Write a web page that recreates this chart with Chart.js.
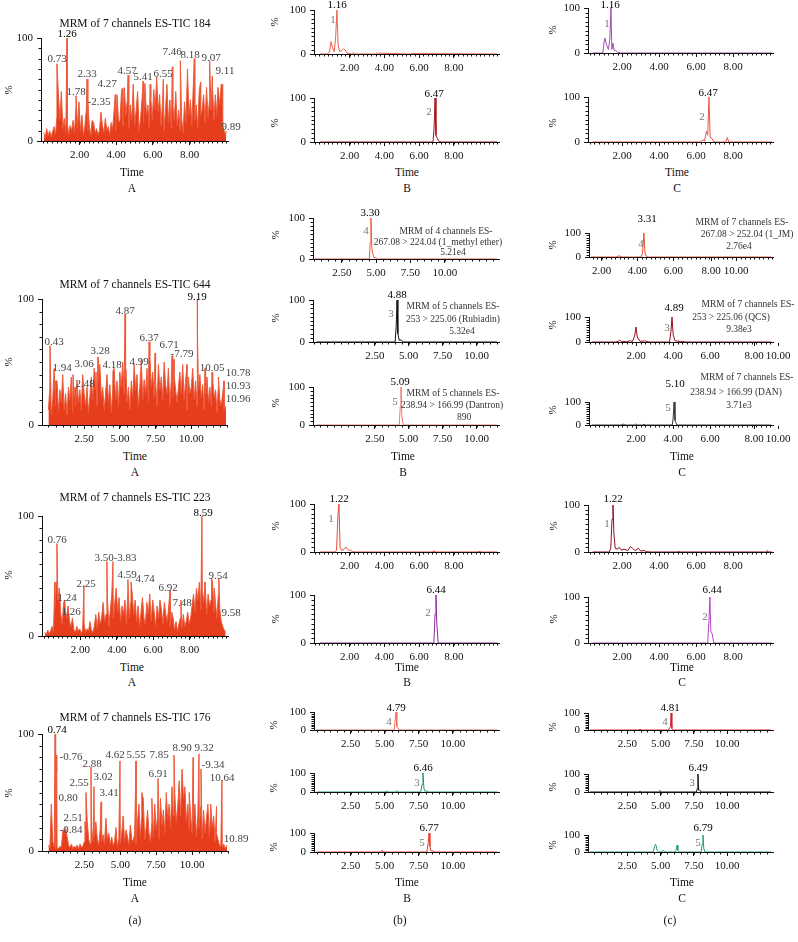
<!DOCTYPE html>
<html>
<head>
<meta charset="utf-8">
<script src="https://cdn.jsdelivr.net/npm/chart.js@4.4.1/dist/chart.umd.min.js"></script>
<style>
  body { margin: 0; background: #fff; }
  #fig { position: relative; width: 798px; height: 942px; overflow: hidden;
         font-family: "Liberation Serif", "DejaVu Serif", serif; color: #111; }
  #fig canvas { position: absolute; }
  .t { position: absolute; transform: translate(-50%, -50%); white-space: nowrap; line-height: 1; }
  .title { font-size: 11.5px; color: #111; }
  .pk { font-size: 11px; color: #444; }
  .pkb { font-size: 11px; color: #000; }
  .num { font-size: 11px; color: #777; }
  .ann { font-size: 9.5px; color: #333; }
  .ax { font-size: 11.5px; color: #111; }
  .pct { font-size: 11px; color: #111; transform: translate(-50%, -50%) rotate(-90deg); }
</style>
</head>
<body>
<div id="fig"></div>
<script>
// --- tick labels ---
const ticks2 = [2, 4, 6, 8];
const ticks2Text = ["2.00", "4.00", "6.00", "8.00"];
const ticks25 = [2.5, 5, 7.5, 10];
const ticks25Text = ["2.50", "5.00", "7.50", "10.00"];
const ticksC2a = [2, 4, 6, 8.1, 9.5];
const ticksC2b = [2, 4, 6, 8.38, 9.68];
const ticksC2Text = ["2.00", "4.00", "6.00", "8.00", "10.00"];

// --- TIC traces (column A) ---
const tic184Noise = [8,3,12,5,10,4,9,14,6,24,45,20,48,12,22,8,18,6,15,10,
  20,8,35,12,38,10,25,6,14,30,10,16,5,20,18,8,12,6,10,28,
  15,8,22,10,14,6,18,12,30,10,45,18,20,48,15,52,25,40,12,35,
  20,55,15,30,48,10,22,40,18,56,25,35,12,42,20,50,30,62,28,45,
  15,38,10,30,55,18,40,12,35,20,48,15,30,10,22,8,38,18,70,25,
  40,15,55,20,35,12,48,25,30,45,18,52,22,40,30,55,20,45,25,50,
  35,55,15,10,6];
const tic184PeakT = [0.77, 1.32, 1.81, 2.41, 2.46, 3.95, 4.33, 4.65, 5.47, 5.85, 6.57, 7.06, 7.5, 8.26, 8.6, 9.1, 9.25, 9.55, 9.78, 10.0];
const tic184PeakH = [75, 100, 44, 60, 37, 45, 51, 64, 58, 55, 60, 72, 78, 80, 57, 78, 63, 52, 55, 10];

const tic644Noise = [12,30,8,20,45,15,35,10,28,18,
  40,12,25,8,30,20,38,10,22,15,
  35,18,28,12,40,25,15,30,10,22,
  38,20,45,28,15,35,48,22,30,12,
  25,40,18,32,10,28,45,20,35,15,
  42,30,50,25,38,18,30,12,35,22,
  48,28,40,15,30,52,20,36,25,45,
  18,55,30,42,22,35,15,48,28,38,
  20,50,32,25,45,15,35,22,40,28,
  18,30,42,25,48,20,35,12,38,25,
  30,45,20,35,15,28,40,22,32,12,
  25,38,18,30,15,35,22,28,10,32,
  20,15,25,12];
const tic644PeakT = [0.11, 0.5, 1.72, 1.86, 3.33, 3.47, 4.52, 5.36, 5.43, 7.04, 7.46, 8.65, 8.79, 9.7, 10.4, 10.45, 10.96, 11.45, 11.9, 12.29, 12.43];
const tic644PeakH = [63, 35, 40, 30, 42, 54, 43, 88, 44, 66, 57, 55, 52, 48, 100, 78, 45, 42, 38, 35, 15];

const tic223Noise = [3,1,5,2,4,8,3,25,45,30,
  40,18,10,28,22,15,25,12,8,15,
  5,3,8,4,6,2,5,10,3,6,
  4,12,5,3,8,18,6,20,10,15,
  28,12,18,30,8,22,35,15,28,40,
  20,32,12,25,18,30,10,38,15,28,
  35,18,30,12,25,8,20,32,15,10,
  28,18,35,12,30,20,8,25,15,30,
  22,10,28,18,12,25,8,20,15,5,
  12,4,10,15,6,18,8,12,20,10,
  15,25,35,20,40,30,45,22,38,28,
  42,18,35,25,30,45,20,28,15,35,
  22,12,8,5,3];
const tic223PeakT = [0.6, 0.72, 1.16, 1.27, 2.2, 3.46, 3.79, 4.61, 4.78, 6.92, 7.52, 8.67, 8.84, 9.2, 9.35, 9.6];
const tic223PeakH = [45, 77, 30, 18, 42, 62, 62, 47, 45, 38, 30, 100, 45, 48, 40, 48];

const tic176Noise = [5,3,40,8,4,2,3,2,4,3,
  18,15,20,12,5,3,6,2,4,3,
  5,2,6,3,4,8,15,25,10,6,
  20,8,12,25,10,5,18,8,14,6,
  28,10,15,6,12,5,8,20,4,10,
  6,15,30,8,18,12,5,22,10,8,
  15,6,25,40,12,30,45,10,20,35,
  15,8,25,12,40,18,30,10,45,22,
  35,15,50,28,40,20,55,30,48,25,
  38,60,30,70,45,55,25,40,18,30,
  15,25,40,12,30,20,38,10,35,15,
  28,40,12,38,20,30,8,15,10,5,
  4,3,6,2];
const tic176PeakT = [0.46, 0.53, 0.58, 2.54, 2.61, 2.96, 3.17, 3.66, 4.98, 6.1, 6.5, 7.2, 7.63, 8.2, 8.74, 9.5, 9.8, 10.07, 10.48, 10.62, 11.3, 11.7, 12.08, 12.43];
const tic176PeakH = [100, 82, 68, 25, 50, 72, 55, 42, 77, 77, 50, 45, 62, 48, 82, 55, 50, 80, 83, 70, 40, 38, 60, 5];

// --- single channel traces (columns B, C) ---
const b1aT = [0.3, 0.75, 0.85, 0.93, 1.02, 1.12, 1.2, 1.27, 1.34, 1.42, 1.55, 1.65, 1.75, 1.85, 2.1, 2.2, 2.3, 3.5, 3.6, 5.5, 5.6, 10.5];
const b1aH = [0, 0, 6, 28, 15, 5, 40, 100, 20, 6, 8, 12, 9, 2, 0, 3, 0, 0, 2, 0, 1, 0];
const b1bT = [0.3, 6.8, 6.86, 6.92, 6.97, 7.03, 7.12, 7.3, 10.5];
const b1bH = [0, 0, 30, 100, 15, 10, 2, 0, 0];
const c1aT = [0.4, 0.95, 1.02, 1.07, 1.15, 1.25, 1.33, 1.39, 1.44, 1.5, 1.56, 1.65, 1.75, 1.9, 9.7, 9.75, 9.8, 10.1];
const c1aH = [0, 0, 25, 33, 18, 8, 30, 100, 8, 22, 6, 5, 2, 0, 0, 2, 0, 0];
const c1bT = [0.4, 6.25, 6.36, 6.45, 6.55, 6.62, 6.69, 6.75, 6.85, 6.95, 7.6, 7.68, 7.76, 10.1];
const c1bH = [0, 0, 5, 2, 24, 15, 100, 10, 8, 0, 0, 10, 0, 0];

const b2aT = [0.5, 4.5, 4.57, 4.62, 4.68, 4.74, 4.85, 5.0, 5.1, 13.8];
const b2aH = [0, 0, 40, 100, 30, 15, 3, 3, 0, 0];
const b2bT = [-1.8, 4.0, 4.08, 4.14, 4.2, 4.3, 4.45, 4.6, 11.5];
const b2bH = [0, 0, 40, 100, 20, 4, 5, 0, 0];
const b2cT = [-1.8, 4.3, 4.38, 4.43, 4.49, 4.6, 11.5];
const b2cH = [0, 0, 50, 100, 25, 0, 0];
const c2aT = [1.4, 2.8, 2.97, 3.15, 4.2, 4.28, 4.36, 4.42, 4.5, 4.6, 11.45];
const c2aH = [0, 0, 5, 0, 0, 15, 100, 15, 3, 0, 0];
const c2bT = [-0.4, 0.9, 1.05, 1.12, 1.2, 1.5, 1.67, 1.8, 1.92, 1.99, 2.06, 2.2, 2.5, 2.7, 3.8, 3.88, 3.94, 4.0, 4.1, 4.4, 4.5, 4.65, 9.3];
const c2bH = [0, 0, 3, 8, 2, 1, 5, 2, 25, 60, 20, 3, 4, 0, 0, 40, 100, 30, 5, 2, 3, 0, 0];
const c2cT = [-0.4, 1.2, 1.3, 1.4, 1.9, 1.96, 2.05, 2.35, 2.42, 2.5, 3.95, 4.0, 4.05, 4.1, 4.2, 9.3];
const c2cH = [0, 0, 4, 0, 0, 4, 0, 0, 3, 0, 0, 30, 100, 20, 0, 0];

const b3aT = [0.3, 1.15, 1.25, 1.33, 1.39, 1.45, 1.55, 1.7, 1.79, 1.9, 2.0, 2.05, 2.15, 2.3, 6.8, 6.85, 6.9, 9.4, 9.45, 9.5, 10.5];
const b3aH = [0, 0, 4, 80, 100, 10, 3, 6, 10, 5, 3, 4, 1, 0, 0, 3, 0, 0, 2, 0, 0];
const b3bT = [0.3, 6.85, 6.92, 6.97, 7.02, 7.1, 10.5];
const b3bH = [0, 0, 60, 100, 40, 0, 0];
const c3aT = [0.4, 1.3, 1.38, 1.45, 1.5, 1.55, 1.62, 1.75, 1.83, 1.95, 2.1, 2.3, 2.45, 2.55, 2.7, 2.87, 3.0, 3.2, 3.3, 3.5, 5.0, 5.05, 5.1, 9.8, 9.85, 9.9, 10.1];
const c3aH = [0, 0, 8, 70, 100, 40, 8, 6, 10, 4, 6, 3, 12, 8, 3, 8, 2, 3, 1, 0, 0, 2, 0, 0, 3, 0, 0];
const c3bT = [0.4, 6.62, 6.69, 6.74, 6.79, 6.86, 6.95, 10.1];
const c3bH = [0, 0, 50, 100, 25, 20, 0, 0];

const b4aT = [0.0, 5.7, 5.77, 5.83, 5.89, 5.95, 6.05, 13.3];
const b4aH = [0, 0, 60, 100, 20, 15, 0, 0];
const b4bT = [0.0, 5.0, 5.15, 5.3, 5.8, 5.9, 6.0, 7.65, 7.74, 7.81, 7.88, 7.95, 8.1, 8.25, 13.3];
const b4bH = [0, 0, 5, 0, 0, 8, 0, 0, 40, 100, 20, 4, 5, 0, 0];
const b4cT = [0.0, 4.7, 4.8, 4.9, 8.1, 8.2, 8.26, 8.32, 8.4, 8.55, 8.7, 13.3];
const b4cH = [0, 0, 10, 0, 0, 50, 100, 30, 6, 5, 0, 0];
const c4aT = [-0.3, 3.35, 3.46, 3.55, 5.6, 5.7, 5.75, 5.79, 5.85, 5.95, 13.3];
const c4aH = [0, 0, 5, 0, 0, 15, 20, 100, 10, 0, 0];
const c4bT = [-0.3, 3.35, 3.46, 3.55, 4.85, 4.96, 5.05, 7.7, 7.76, 7.81, 7.86, 7.95, 8.05, 13.3];
const c4bH = [0, 0, 3, 0, 0, 8, 0, 0, 20, 100, 10, 10, 0, 0];
const c4cT = [-0.3, 4.45, 4.55, 4.62, 4.68, 4.75, 4.85, 5.1, 5.2, 5.3, 6.1, 6.18, 6.24, 6.3, 6.4, 8.05, 8.13, 8.19, 8.25, 8.35, 13.3];
const c4cH = [0, 0, 30, 45, 35, 8, 0, 0, 10, 0, 0, 15, 40, 10, 0, 0, 45, 100, 20, 0, 0];

// --- helpers ---
const FONT = '"Liberation Serif", "DejaVu Serif", serif';
const fig = document.getElementById("fig");

function pts(T, H) {
  return T.map((t, i) => ({ x: t, y: H[i] }));
}

function ticPts(start, step, noise, peakT, peakH) {
  const out = noise.map((v, i) => ({ x: start + i * step, y: v }));
  peakT.forEach((t, i) => out.push({ x: t, y: peakH[i] }));
  return out.sort((a, b) => a.x - b.x);
}

// small ticks between the labelled ones
const minorTicks = {
  id: "minorTicks",
  afterDatasetsDraw(chart, args, o) {
    const { ctx, chartArea: a, scales: { x, y } } = chart;
    ctx.save();
    ctx.strokeStyle = "#111";
    ctx.lineWidth = 1;
    ctx.beginPath();
    for (let v = Math.ceil(x.min / o.step) * o.step; v <= x.max + 1e-9; v += o.step) {
      const px = Math.round(x.getPixelForValue(v)) + 0.5;
      ctx.moveTo(px, a.bottom);
      ctx.lineTo(px, a.bottom + 2.5);
    }
    for (let v = 10; v < 100; v += 10) {
      const py = Math.round(y.getPixelForValue(v)) + 0.5;
      ctx.moveTo(a.left - 2.5, py);
      ctx.lineTo(a.left, py);
    }
    ctx.stroke();
    ctx.restore();
  },
};

function drawPanel(p) {
  // y axis box is 40px wide, x axis box 24px tall: the plot area lands on p.L..p.R, p.T..p.B
  const yW = 40, xH = 24, padT = 12, padR = 22;
  const cv = document.createElement("canvas");
  cv.width = p.R - p.L + yW + padR;
  cv.height = p.B - p.T + padT + xH;
  cv.style.left = p.L - yW + "px";
  cv.style.top = p.T - padT + "px";
  fig.appendChild(cv);

  const axisFont = { family: FONT, size: 11 };

  new Chart(cv, {
    type: "line",
    data: {
      datasets: [
        {
          data: p.data,
          borderColor: p.color,
          borderWidth: 1,
          borderJoinStyle: "bevel",
          backgroundColor: p.fill || "transparent",
          fill: p.fill ? "origin" : false,
          pointRadius: 0,
          tension: 0,
        },
      ],
    },
    options: {
      responsive: false,
      animation: false,
      devicePixelRatio: 1,
      layout: { padding: { left: 0, top: padT, right: padR, bottom: 0 } },
      plugins: {
        legend: { display: false },
        tooltip: { enabled: false },
        minorTicks: { step: p.step },
      },
      scales: {
        x: {
          type: "linear",
          min: p.xmin,
          max: p.xmax,
          afterFit: (s) => { s.height = xH; },
          afterBuildTicks: (s) => { s.ticks = p.tp.map((v) => ({ value: v })); },
          ticks: {
            callback: (v, i) => p.tt[i],
            font: axisFont,
            color: "#111",
            padding: 4,
            autoSkip: false,
            maxRotation: 0,
            minRotation: 0,
          },
          grid: { drawOnChartArea: false, tickLength: 4, tickColor: "#111" },
          border: { color: "#111", width: 1 },
        },
        y: {
          min: 0,
          max: 100,
          afterFit: (s) => { s.width = yW; },
          afterBuildTicks: (s) => { s.ticks = [{ value: 0 }, { value: 100 }]; },
          ticks: { font: axisFont, color: "#111", padding: 4 },
          grid: { drawOnChartArea: false, tickLength: 4, tickColor: "#111" },
          border: { color: "#111", width: 1 },
        },
      },
    },
    plugins: [minorTicks],
  });
}

// --- panels: axis box in page pixels, x range, trace ---
const A_LINE = "#ee5a3a", A_FILL = "#e63e1c";
const panels = [
  { L: 41, R: 228, T: 38, B: 141, xmin: -0.1, xmax: 10.1, tp: ticks2, tt: ticks2Text, step: 0.25, color: A_LINE, fill: A_FILL, data: ticPts(0.05, 0.08, tic184Noise, tic184PeakT, tic184PeakH) },
  { L: 314, R: 499, T: 10, B: 54, xmin: -0.05, xmax: 10.6, tp: ticks2, tt: ticks2Text, step: 0.25, color: "#e9604e", data: pts(b1aT, b1aH) },
  { L: 314, R: 499, T: 98, B: 142, xmin: -0.05, xmax: 10.6, tp: ticks2, tt: ticks2Text, step: 0.25, color: "#a8141c", data: pts(b1bT, b1bH) },
  { L: 588, R: 773, T: 8, B: 53, xmin: 0.15, xmax: 10.15, tp: ticks2, tt: ticks2Text, step: 0.25, color: "#a54cb5", data: pts(c1aT, c1aH) },
  { L: 588, R: 773, T: 97, B: 142, xmin: 0.15, xmax: 10.15, tp: ticks2, tt: ticks2Text, step: 0.25, color: "#ef5545", data: pts(c1bT, c1bH) },

  { L: 42, R: 227, T: 299, B: 425, xmin: -0.45, xmax: 12.5, tp: ticks25, tt: ticks25Text, step: 0.5, color: A_LINE, fill: A_FILL, data: ticPts(0, 0.1, tic644Noise, tic644PeakT, tic644PeakH) },
  { L: 313, R: 499, T: 218, B: 259, xmin: 0.4, xmax: 13.95, tp: ticks25, tt: ticks25Text, step: 0.5, color: "#ef5a38", data: pts(b2aT, b2aH) },
  { L: 313, R: 499, T: 300, B: 342, xmin: -2.05, xmax: 11.65, tp: ticks25, tt: ticks25Text, step: 0.5, color: "#111111", data: pts(b2bT, b2bH) },
  { L: 313, R: 499, T: 387, B: 425, xmin: -2.05, xmax: 11.65, tp: ticks25, tt: ticks25Text, step: 0.5, color: "#f07a68", data: pts(b2cT, b2cH) },
  { L: 589, R: 773, T: 233, B: 257, xmin: 1.3, xmax: 11.55, tp: ticksC2a, tt: ticksC2Text, step: 0.25, color: "#ee4e2c", data: pts(c2aT, c2aH) },
  { L: 589, R: 773, T: 317, B: 342, xmin: -0.55, xmax: 9.4, tp: ticksC2b, tt: ticksC2Text, step: 0.25, color: "#9a0f22", data: pts(c2bT, c2bH) },
  { L: 589, R: 773, T: 402, B: 425, xmin: -0.55, xmax: 9.4, tp: ticksC2b, tt: ticksC2Text, step: 0.25, color: "#3a3a3a", data: pts(c2cT, c2cH) },

  { L: 42, R: 228, T: 516, B: 636, xmin: -0.1, xmax: 10.1, tp: ticks2, tt: ticks2Text, step: 0.25, color: A_LINE, fill: A_FILL, data: ticPts(0.05, 0.08, tic223Noise, tic223PeakT, tic223PeakH) },
  { L: 314, R: 499, T: 504, B: 552, xmin: -0.05, xmax: 10.6, tp: ticks2, tt: ticks2Text, step: 0.25, color: "#e84a38", data: pts(b3aT, b3aH) },
  { L: 314, R: 499, T: 595, B: 643, xmin: -0.05, xmax: 10.6, tp: ticks2, tt: ticks2Text, step: 0.25, color: "#8e2aa0", data: pts(b3bT, b3bH) },
  { L: 588, R: 773, T: 505, B: 552, xmin: 0.15, xmax: 10.15, tp: ticks2, tt: ticks2Text, step: 0.25, color: "#8c1020", data: pts(c3aT, c3aH) },
  { L: 588, R: 773, T: 597, B: 643, xmin: 0.15, xmax: 10.15, tp: ticks2, tt: ticks2Text, step: 0.25, color: "#b048c0", data: pts(c3bT, c3bH) },

  { L: 42, R: 228, T: 734, B: 851, xmin: -0.45, xmax: 12.5, tp: ticks25, tt: ticks25Text, step: 0.5, color: A_LINE, fill: A_FILL, data: ticPts(0, 0.1, tic176Noise, tic176PeakT, tic176PeakH) },
  { L: 314, R: 499, T: 712, B: 730, xmin: -0.2, xmax: 13.4, tp: ticks25, tt: ticks25Text, step: 0.5, color: "#f07060", data: pts(b4aT, b4aH) },
  { L: 314, R: 499, T: 773, B: 792, xmin: -0.2, xmax: 13.4, tp: ticks25, tt: ticks25Text, step: 0.5, color: "#1f9a68", data: pts(b4bT, b4bH) },
  { L: 314, R: 499, T: 833, B: 852, xmin: -0.2, xmax: 13.4, tp: ticks25, tt: ticks25Text, step: 0.5, color: "#ec3b2a", data: pts(b4cT, b4cH) },
  { L: 588, R: 773, T: 713, B: 730, xmin: -0.45, xmax: 13.45, tp: ticks25, tt: ticks25Text, step: 0.5, color: "#d01f30", data: pts(c4aT, c4aH) },
  { L: 588, R: 773, T: 774, B: 792, xmin: -0.45, xmax: 13.45, tp: ticks25, tt: ticks25Text, step: 0.5, color: "#111111", data: pts(c4bT, c4bH) },
  { L: 588, R: 773, T: 835, B: 852, xmin: -0.45, xmax: 13.45, tp: ticks25, tt: ticks25Text, step: 0.5, color: "#1f9e6e", data: pts(c4cT, c4cH) },
];

panels.forEach(drawPanel);

// --- text: [text, x, y, class] ---
const notes = [
  // row 1
  ["MRM of 7 channels ES-TIC 184", 135, 24, "title"],
  ["1.26", 67, 33, "pkb"], ["0.73", 57, 58, "pk"], ["2.33", 87, 73, "pk"], ["1.78", 76, 91, "pk"],
  ["-2.35", 99, 101, "pk"], ["4.27", 107, 83, "pk"], ["4.57", 127, 70, "pk"], ["5.41", 143, 76, "pk"],
  ["6.55", 163, 73, "pk"], ["7.46", 172, 51, "pk"], ["8.18", 190, 54, "pk"], ["9.07", 211, 57, "pk"],
  ["9.11", 225, 70, "pk"], ["9.89", 231, 126, "pk"],
  ["1.16", 337, 4, "pkb"], ["1", 333, 19, "num"], ["6.47", 434, 93, "pkb"], ["2", 429, 111, "num"],
  ["1.16", 610, 4, "pkb"], ["1", 607, 23, "num"], ["6.47", 708, 92, "pkb"], ["2", 702, 116, "num"],
  ["Time", 132, 173, "ax"], ["A", 132, 189, "ax"],
  ["Time", 407, 173, "ax"], ["B", 407, 189, "ax"],
  ["Time", 677, 173, "ax"], ["C", 677, 189, "ax"],

  // row 2
  ["MRM of 7 channels ES-TIC 644", 135, 285, "title"],
  ["9.19", 197, 296, "pkb"], ["4.87", 125, 310, "pk"], ["0.43", 54, 341, "pk"], ["6.37", 149, 337, "pk"],
  ["6.71", 169, 344, "pk"], ["-7.79", 182, 353, "pk"], ["3.28", 100, 350, "pk"], ["1.94", 62, 367, "pk"],
  ["3.06", 84, 363, "pk"], ["4.18", 112, 364, "pk"], ["4.99", 139, 361, "pk"], ["2.48", 85, 383, "pk"],
  ["10.05", 212, 367, "pk"], ["10.78", 238, 372, "pk"], ["10.93", 238, 385, "pk"], ["10.96", 238, 398, "pk"],
  ["3.30", 370, 212, "pkb"], ["4", 366, 230, "num"],
  ["MRM of 4 channels ES-", 446, 232, "ann"], ["267.08 > 224.04 (1_methyl ether)", 438, 243, "ann"], ["5.21e4", 453, 253, "ann"],
  ["4.88", 397, 294, "pkb"], ["3", 391, 313, "num"],
  ["MRM of 5 channels ES-", 453, 307, "ann"], ["253 > 225.06 (Rubiadin)", 453, 320, "ann"], ["5.32e4", 462, 332, "ann"],
  ["5.09", 400, 381, "pkb"], ["5", 395, 401, "num"],
  ["MRM of 5 channels ES-", 453, 394, "ann"], ["238.94 > 166.99 (Dantron)", 452, 406, "ann"], ["890", 464, 418, "ann"],
  ["3.31", 647, 218, "pkb"], ["4", 641, 243, "num"],
  ["MRM of 7 channels ES-", 742, 223, "ann"], ["267.08 > 252.04 (1_JM)", 747, 235, "ann"], ["2.76e4", 739, 247, "ann"],
  ["4.89", 674, 307, "pkb"], ["3", 667, 327, "num"],
  ["MRM of 7 channels ES-", 748, 305, "ann"], ["253 > 225.06 (QCS)", 731, 318, "ann"], ["9.38e3", 739, 330, "ann"],
  ["5.10", 675, 383, "pkb"], ["5", 668, 407, "num"],
  ["MRM of 7 channels ES-", 747, 378, "ann"], ["238.94 > 166.99 (DAN)", 736, 393, "ann"], ["3.71e3", 739, 406, "ann"],
  ["Time", 135, 457, "ax"], ["A", 135, 473, "ax"],
  ["Time", 403, 457, "ax"], ["B", 403, 473, "ax"],
  ["Time", 682, 457, "ax"], ["C", 682, 473, "ax"],

  // row 3
  ["MRM of 7 channels ES-TIC 223", 135, 498, "title"],
  ["8.59", 203, 512, "pkb"], ["0.76", 57, 539, "pk"], ["3.50", 104, 557, "pk"], ["-3.83", 125, 557, "pk"],
  ["2.25", 86, 583, "pk"], ["4.59", 127, 574, "pk"], ["4.74", 145, 578, "pk"], ["6.92", 168, 587, "pk"],
  ["7.48", 182, 602, "pk"], ["9.54", 218, 575, "pk"], ["9.58", 231, 612, "pk"], ["1.24", 67, 597, "pk"],
  ["1.26", 71, 611, "pk"],
  ["1.22", 339, 498, "pkb"], ["1", 331, 518, "num"], ["6.44", 436, 589, "pkb"], ["2", 428, 612, "num"],
  ["1.22", 613, 498, "pkb"], ["1", 607, 523, "num"], ["6.44", 712, 589, "pkb"], ["2", 705, 616, "num"],
  ["Time", 132, 668, "ax"], ["A", 132, 683, "ax"],
  ["Time", 407, 668, "ax"], ["B", 407, 683, "ax"],
  ["Time", 682, 668, "ax"], ["C", 682, 683, "ax"],

  // row 4
  ["MRM of 7 channels ES-TIC 176", 135, 718, "title"],
  ["0.74", 57, 729, "pkb"], ["-0.76", 71, 756, "pk"], ["2.88", 92, 763, "pk"], ["4.62", 115, 754, "pk"],
  ["5.55", 136, 754, "pk"], ["7.85", 159, 754, "pk"], ["8.90", 182, 747, "pk"], ["9.32", 204, 747, "pk"],
  ["-9.34", 213, 764, "pk"], ["10.64", 222, 777, "pk"], ["10.89", 236, 838, "pk"], ["3.02", 103, 776, "pk"],
  ["2.55", 79, 782, "pk"], ["3.41", 109, 792, "pk"], ["0.80", 68, 797, "pk"], ["2.51", 73, 817, "pk"],
  ["-0.84", 71, 829, "pk"], ["6.91", 158, 773, "pk"],
  ["4.79", 396, 707, "pkb"], ["4", 389, 721, "num"], ["6.46", 423, 767, "pkb"], ["3", 417, 782, "num"],
  ["6.77", 429, 827, "pkb"], ["5", 422, 842, "num"],
  ["4.81", 670, 707, "pkb"], ["4", 665, 721, "num"], ["6.49", 698, 767, "pkb"], ["3", 692, 782, "num"],
  ["6.79", 703, 827, "pkb"], ["5", 698, 842, "num"],
  ["Time", 135, 883, "ax"], ["A", 135, 899, "ax"],
  ["Time", 407, 883, "ax"], ["B", 407, 899, "ax"],
  ["Time", 682, 883, "ax"], ["C", 682, 899, "ax"],
  ["(a)", 135, 921, "ax"], ["(b)", 400, 921, "ax"], ["(c)", 670, 921, "ax"],

  // y-axis titles
  ["%", 8, 90, "pct"], ["%", 274, 22, "pct"], ["%", 274, 123, "pct"], ["%", 552, 30, "pct"], ["%", 552, 123, "pct"],
  ["%", 8, 362, "pct"], ["%", 275, 235, "pct"], ["%", 275, 318, "pct"], ["%", 275, 403, "pct"],
  ["%", 552, 245, "pct"], ["%", 552, 325, "pct"], ["%", 552, 410, "pct"],
  ["%", 8, 575, "pct"], ["%", 275, 526, "pct"], ["%", 275, 619, "pct"], ["%", 553, 526, "pct"], ["%", 553, 619, "pct"],
  ["%", 8, 793, "pct"], ["%", 273, 725, "pct"], ["%", 273, 788, "pct"], ["%", 273, 847, "pct"],
  ["%", 552, 727, "pct"], ["%", 552, 787, "pct"], ["%", 552, 845, "pct"],
];

notes.forEach(([s, x, y, cls]) => {
  const d = document.createElement("div");
  d.className = "t " + cls;
  d.textContent = s;
  d.style.left = x + "px";
  d.style.top = y + "px";
  fig.appendChild(d);
});
</script>
</body>
</html>
